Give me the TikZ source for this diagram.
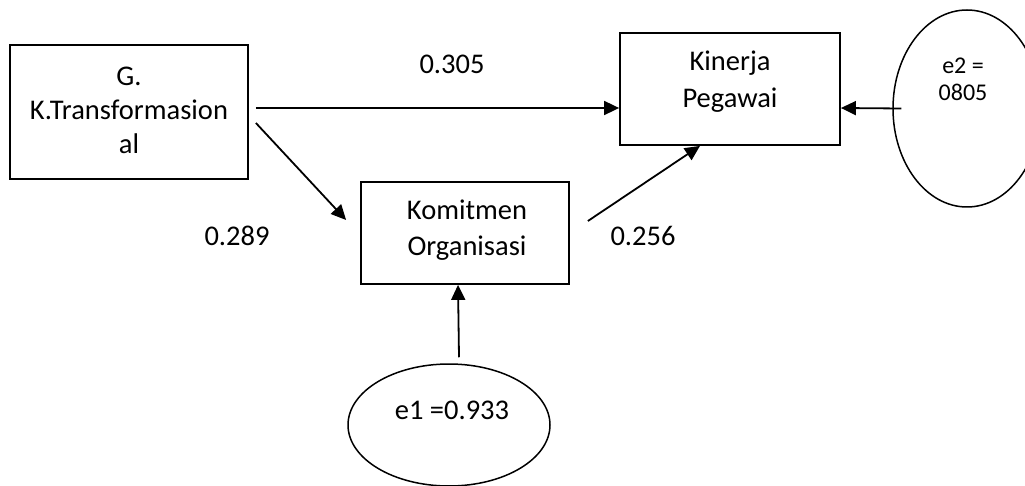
\documentclass[tikz,border=0pt]{standalone}
\usepackage{fontspec}
\setmainfont{Carlito}
\usetikzlibrary{arrows.meta,calc,shapes.geometric}
\begin{document}
\begin{tikzpicture}[x=1pt,y=-1pt,
  boxnode/.style={draw,line width=1.8pt,rectangle,inner sep=0pt},
  ellnode/.style={draw,line width=1.5pt,ellipse,inner sep=0pt},
  txt/.style={font=\fontsize{28.5}{34}\selectfont,align=center,inner sep=0pt},
  smalltxt/.style={font=\fontsize{24}{27}\selectfont,align=center,inner sep=0pt},
  arr/.style={line width=1.8pt,-{Triangle[length=15pt,width=14pt]}}]
\useasboundingbox (0,0) rectangle (1025,486);
% boxes
\node[boxnode,minimum width=238pt,minimum height=134pt] (gk) at (129,112) {};
\node[txt] (gktext) at (129,110) {G.\\K.Transformasion\\al};
\node[boxnode,minimum width=220pt,minimum height=112pt] (kin) at (730,89) {};
\node[txt,font=\fontsize{28.5}{37}\selectfont] (kintext) at (730,82) {Kinerja\\Pegawai};
\node[boxnode,minimum width=208pt,minimum height=102pt] (kom) at (465,233) {};
\node[txt,font=\fontsize{28.5}{36}\selectfont] (komtext) at (467,230) {Komitmen\\Organisasi};
% ellipses
\node[ellnode,minimum width=202pt,minimum height=122pt] (e1) at (449,425) {};
\node[txt] (e1text) at (452,410) {e1 =0.933};
\node[ellnode,minimum width=148pt,minimum height=197pt] (e2) at (967,108.5) {};
\node[smalltxt] (e2text) at (963,79) {e2 =\\0805};
% coefficients
\node[txt] (c305) at (452,64) {0.305};
\node[txt] (c289) at (237,236) {0.289};
\node[txt] (c256) at (643,236) {0.256};
% arrows
\draw[arr] ($(gk.east)+(7,-4)$) -- ($(kin.west)+(0,19)$);
\draw[arr] ($(gk.east)+(7,11)$) -- ($(kom.west)+(-14,-13)$);
\draw[arr] ($(kom.east)+(18,-12)$) -- ($(kin.south)+(-30,0)$);
\draw[arr] ($(e1.north)+(10,-6)$) -- ($(kom.south)+(-7,0)$);
\draw[arr] ($(e2.west)+(9,0)$) -- ($(kin.east)+(0,19)$);
\end{tikzpicture}
\end{document}
